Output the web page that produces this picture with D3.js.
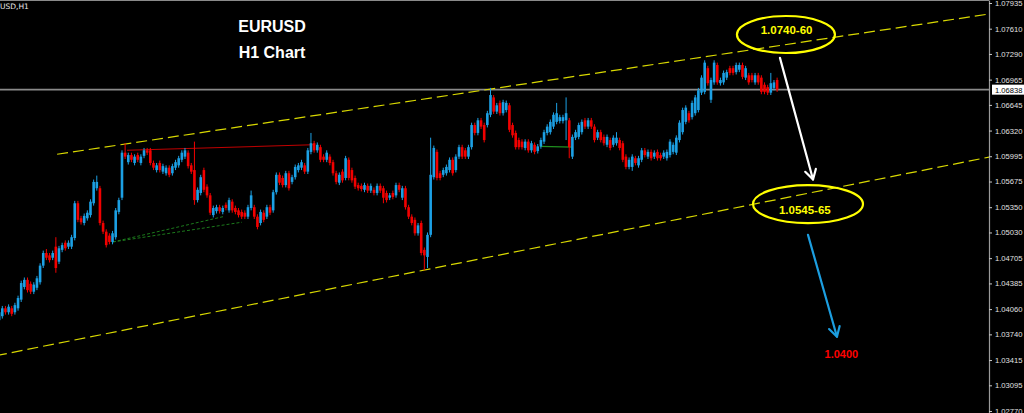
<!DOCTYPE html>
<html><head><meta charset="utf-8">
<script src="https://cdn.jsdelivr.net/npm/d3@7"></script>
<style>html,body{margin:0;padding:0;background:#000;overflow:hidden}svg{display:block}</style>
</head><body>
<svg id="c" width="1024" height="413"></svg>
<script>
// ---------------- DATA ----------------
const open = [
1.0415,1.0392,1.0397,1.0407,1.0402,1.0407,1.0402,1.0407,1.0418,1.0434,
1.0443,1.0438,1.0428,1.0433,1.0440,1.0461,1.0477,1.0474,1.0471,1.0485,
1.0466,1.0481,1.0490,1.0485,1.0485,1.0496,1.0540,1.0521,1.0515,1.0521,
1.0525,1.0540,1.0559,1.0559,1.0515,1.0504,1.0499,1.0491,1.0497,1.0529,
1.0547,1.0604,1.0592,1.0601,1.0591,1.0601,1.0591,1.0600,1.0607,1.0607,
1.0591,1.0582,1.0591,1.0580,1.0578,1.0585,1.0578,1.0585,1.0588,1.0595,
1.0599,1.0604,1.0588,1.0582,1.0544,1.0553,1.0582,1.0561,1.0550,1.0525,
1.0530,1.0535,1.0529,1.0538,1.0531,1.0542,1.0534,1.0531,1.0529,1.0528,
1.0523,1.0534,1.0535,1.0523,1.0515,1.0528,1.0523,1.0535,1.0531,1.0554,
1.0576,1.0572,1.0563,1.0578,1.0567,1.0573,1.0582,1.0585,1.0588,1.0580,
1.0605,1.0616,1.0607,1.0611,1.0599,1.0595,1.0599,1.0592,1.0578,1.0566,
1.0580,1.0572,1.0595,1.0582,1.0572,1.0563,1.0562,1.0557,1.0562,1.0556,
1.0557,1.0553,1.0562,1.0559,1.0553,1.0547,1.0553,1.0550,1.0563,1.0547,
1.0559,1.0535,1.0523,1.0519,1.0502,1.0515,1.0481,1.0472,1.0500,1.0573,
1.0605,1.0578,1.0576,1.0578,1.0582,1.0595,1.0582,1.0599,1.0611,1.0607,
1.0599,1.0611,1.0639,1.0629,1.0645,1.0639,1.0639,1.0652,1.0674,1.0656,
1.0667,1.0654,1.0658,1.0664,1.0639,1.0629,1.0620,1.0618,1.0610,1.0618,
1.0607,1.0614,1.0606,1.0612,1.0618,1.0629,1.0630,1.0637,1.0643,1.0644,
1.0644,1.0645,1.0645,1.0599,1.0623,1.0624,1.0630,1.0645,1.0637,1.0645,
1.0637,1.0623,1.0630,1.0624,1.0614,1.0620,1.0614,1.0616,1.0620,1.0616,
1.0599,1.0586,1.0586,1.0597,1.0588,1.0595,1.0607,1.0599,1.0605,1.0599,
1.0605,1.0601,1.0599,1.0597,1.0601,1.0605,1.0604,1.0620,1.0630,1.0643,
1.0654,1.0649,1.0654,1.0658,1.0680,1.0681,1.0711,1.0671,1.0693,1.0715,
1.0692,1.0693,1.0699,1.0711,1.0711,1.0706,1.0709,1.0715,1.0699,1.0702,
1.0702,1.0693,1.0702,1.0699,1.0690,1.0687,1.0680,1.0686,1.0696];
const high = [
1.0418,1.0405,1.0410,1.0410,1.0412,1.0410,1.0414,1.0423,1.0442,1.0446,
1.0446,1.0441,1.0440,1.0448,1.0464,1.0480,1.0482,1.0477,1.0480,1.0497,
1.0486,1.0490,1.0493,1.0493,1.0500,1.0543,1.0543,1.0524,1.0527,1.0531,
1.0545,1.0570,1.0575,1.0562,1.0518,1.0507,1.0502,1.0505,1.0534,1.0547,
1.0607,1.0616,1.0604,1.0604,1.0602,1.0604,1.0602,1.0610,1.0610,1.0610,
1.0594,1.0591,1.0594,1.0590,1.0588,1.0588,1.0590,1.0595,1.0600,1.0607,
1.0610,1.0607,1.0591,1.0618,1.0560,1.0576,1.0585,1.0564,1.0553,1.0537,
1.0538,1.0538,1.0537,1.0541,1.0547,1.0545,1.0537,1.0534,1.0532,1.0531,
1.0538,1.0556,1.0538,1.0526,1.0532,1.0531,1.0538,1.0538,1.0557,1.0579,
1.0579,1.0575,1.0581,1.0581,1.0576,1.0589,1.0591,1.0595,1.0591,1.0610,
1.0629,1.0619,1.0617,1.0614,1.0602,1.0607,1.0602,1.0595,1.0581,1.0579,
1.0583,1.0600,1.0598,1.0585,1.0575,1.0566,1.0565,1.0566,1.0565,1.0565,
1.0560,1.0565,1.0565,1.0562,1.0556,1.0553,1.0556,1.0566,1.0566,1.0562,
1.0562,1.0538,1.0526,1.0522,1.0515,1.0518,1.0484,1.0503,1.0623,1.0613,
1.0608,1.0581,1.0585,1.0589,1.0598,1.0598,1.0602,1.0614,1.0614,1.0610,
1.0614,1.0642,1.0642,1.0648,1.0648,1.0642,1.0657,1.0686,1.0677,1.0667,
1.0670,1.0671,1.0670,1.0667,1.0642,1.0632,1.0623,1.0621,1.0621,1.0621,
1.0619,1.0617,1.0615,1.0623,1.0633,1.0640,1.0646,1.0655,1.0667,1.0652,
1.0652,1.0674,1.0648,1.0627,1.0633,1.0642,1.0646,1.0648,1.0648,1.0648,
1.0640,1.0633,1.0633,1.0627,1.0627,1.0623,1.0626,1.0630,1.0623,1.0619,
1.0602,1.0598,1.0602,1.0600,1.0600,1.0610,1.0610,1.0608,1.0608,1.0607,
1.0608,1.0604,1.0607,1.0608,1.0621,1.0617,1.0626,1.0645,1.0661,1.0664,
1.0657,1.0670,1.0677,1.0686,1.0702,1.0721,1.0714,1.0699,1.0721,1.0718,
1.0699,1.0708,1.0709,1.0714,1.0714,1.0718,1.0718,1.0718,1.0714,1.0705,
1.0705,1.0705,1.0705,1.0702,1.0693,1.0690,1.0705,1.0696,1.0699];
const low = [
1.0386,1.0389,1.0394,1.0399,1.0399,1.0397,1.0399,1.0404,1.0415,1.0431,
1.0427,1.0425,1.0425,1.0430,1.0437,1.0458,1.0468,1.0465,1.0468,1.0452,
1.0463,1.0478,1.0480,1.0482,1.0482,1.0493,1.0516,1.0513,1.0512,1.0518,
1.0522,1.0537,1.0556,1.0512,1.0501,1.0484,1.0488,1.0488,1.0494,1.0526,
1.0544,1.0596,1.0589,1.0592,1.0588,1.0592,1.0588,1.0597,1.0601,1.0588,
1.0582,1.0579,1.0579,1.0577,1.0575,1.0573,1.0575,1.0582,1.0585,1.0592,
1.0596,1.0584,1.0577,1.0538,1.0541,1.0550,1.0554,1.0547,1.0525,1.0522,
1.0527,1.0527,1.0526,1.0531,1.0528,1.0528,1.0526,1.0522,1.0520,1.0520,
1.0520,1.0531,1.0520,1.0507,1.0512,1.0516,1.0520,1.0525,1.0528,1.0551,
1.0563,1.0560,1.0560,1.0556,1.0564,1.0570,1.0579,1.0582,1.0577,1.0577,
1.0602,1.0604,1.0604,1.0592,1.0592,1.0592,1.0588,1.0575,1.0564,1.0563,
1.0566,1.0569,1.0569,1.0566,1.0558,1.0556,1.0555,1.0554,1.0553,1.0553,
1.0550,1.0550,1.0553,1.0540,1.0541,1.0544,1.0545,1.0547,1.0554,1.0544,
1.0532,1.0520,1.0512,1.0499,1.0499,1.0474,1.0455,1.0458,1.0497,1.0570,
1.0569,1.0569,1.0573,1.0575,1.0579,1.0575,1.0579,1.0596,1.0596,1.0596,
1.0596,1.0608,1.0626,1.0626,1.0634,1.0617,1.0636,1.0649,1.0653,1.0653,
1.0651,1.0651,1.0655,1.0630,1.0623,1.0608,1.0608,1.0608,1.0607,1.0604,
1.0604,1.0602,1.0603,1.0609,1.0615,1.0626,1.0627,1.0634,1.0640,1.0641,
1.0641,1.0620,1.0597,1.0596,1.0620,1.0621,1.0627,1.0634,1.0634,1.0634,
1.0617,1.0620,1.0617,1.0613,1.0611,1.0607,1.0611,1.0613,1.0607,1.0592,
1.0583,1.0583,1.0581,1.0588,1.0585,1.0592,1.0598,1.0596,1.0594,1.0596,
1.0594,1.0594,1.0596,1.0594,1.0598,1.0602,1.0601,1.0617,1.0627,1.0640,
1.0642,1.0646,1.0651,1.0655,1.0677,1.0678,1.0689,1.0667,1.0690,1.0690,
1.0689,1.0690,1.0696,1.0702,1.0702,1.0703,1.0706,1.0697,1.0696,1.0690,
1.0693,1.0690,1.0690,1.0678,1.0678,1.0677,1.0677,1.0683,1.0681];
const close = [
1.0390,1.0402,1.0407,1.0402,1.0409,1.0400,1.0411,1.0420,1.0439,1.0443,
1.0430,1.0428,1.0437,1.0445,1.0461,1.0477,1.0471,1.0468,1.0477,1.0458,
1.0483,1.0487,1.0483,1.0490,1.0497,1.0540,1.0519,1.0516,1.0524,1.0528,
1.0542,1.0567,1.0567,1.0515,1.0504,1.0487,1.0491,1.0502,1.0531,1.0544,
1.0604,1.0599,1.0601,1.0595,1.0599,1.0595,1.0599,1.0607,1.0604,1.0591,
1.0585,1.0588,1.0582,1.0587,1.0585,1.0576,1.0587,1.0592,1.0597,1.0604,
1.0607,1.0587,1.0580,1.0544,1.0557,1.0573,1.0557,1.0550,1.0528,1.0534,
1.0535,1.0530,1.0534,1.0534,1.0544,1.0531,1.0529,1.0525,1.0523,1.0523,
1.0535,1.0550,1.0523,1.0510,1.0529,1.0519,1.0535,1.0528,1.0554,1.0576,
1.0566,1.0563,1.0578,1.0559,1.0573,1.0586,1.0588,1.0592,1.0580,1.0607,
1.0616,1.0607,1.0614,1.0595,1.0595,1.0604,1.0591,1.0578,1.0567,1.0576,
1.0569,1.0597,1.0572,1.0569,1.0561,1.0559,1.0558,1.0563,1.0556,1.0562,
1.0553,1.0562,1.0556,1.0547,1.0544,1.0550,1.0548,1.0563,1.0557,1.0559,
1.0535,1.0523,1.0515,1.0502,1.0512,1.0477,1.0474,1.0500,1.0576,1.0610,
1.0572,1.0572,1.0582,1.0586,1.0595,1.0578,1.0599,1.0611,1.0599,1.0599,
1.0611,1.0639,1.0629,1.0645,1.0637,1.0620,1.0654,1.0677,1.0656,1.0664,
1.0654,1.0668,1.0667,1.0633,1.0626,1.0611,1.0611,1.0611,1.0618,1.0607,
1.0616,1.0605,1.0612,1.0620,1.0630,1.0637,1.0643,1.0652,1.0654,1.0649,
1.0649,1.0654,1.0611,1.0624,1.0630,1.0639,1.0643,1.0637,1.0645,1.0637,
1.0620,1.0630,1.0620,1.0616,1.0624,1.0610,1.0623,1.0623,1.0610,1.0595,
1.0586,1.0595,1.0599,1.0591,1.0597,1.0607,1.0601,1.0605,1.0597,1.0604,
1.0597,1.0597,1.0604,1.0605,1.0618,1.0614,1.0623,1.0642,1.0658,1.0661,
1.0645,1.0667,1.0674,1.0683,1.0699,1.0718,1.0692,1.0696,1.0718,1.0693,
1.0696,1.0705,1.0706,1.0705,1.0705,1.0715,1.0715,1.0700,1.0711,1.0693,
1.0696,1.0702,1.0693,1.0681,1.0681,1.0680,1.0692,1.0693,1.06838];

const tickValues = [1.07935,1.07610,1.07290,1.06965,1.06645,1.06320,1.05995,1.05675,1.05350,1.05030,1.04705,1.04385,1.04060,1.03740,1.03415,1.03095,1.02770];
const currentPrice = 1.06838;
const symbolLabel = "USD,H1";
const titleLines = ["EURUSD", "H1 Chart"];

// trend lines: [bar index, price]
const upperChannel = [[19.4, 1.0602], [316, 1.0780]];
const lowerChannel = [[0, 1.0347], [316, 1.0599]];
const redLine = [[41.6, 1.0607], [100.6, 1.0614]];
const greenDashA = [[37.1, 1.0491], [72.1, 1.0523]];
const greenDashB = [[37.1, 1.0491], [78.1, 1.0516]];
const greenSolid = [[172.7, 1.0612], [183.2, 1.0611]];
const whiteArrow = [[248.9, 1.0724], [259.4, 1.0570]];
const blueArrow = [[257.8, 1.0500], [267.0, 1.0371]];
const zones = [
  {label: "1.0740-60", i: 250.8, price: 1.07536, ti: 251.0, tp: 1.07543, rx: 49, ry: 18.5},
  {label: "1.0545-65", i: 257.8, price: 1.05390, ti: 256.8, tp: 1.05264, rx: 55, ry: 19}
];
const target = {label: "1.0400", i: 268.4, price: 1.03441};

// ---------------- DRAW ----------------
const W = 1024, H = 413, plotRight = 989;
const svg = d3.select("#c");
svg.append("rect").attr("width", W).attr("height", H).attr("fill", "#000");

const x = d3.scaleLinear().domain([0, 314]).range([-4, 985]);
const y = d3.scaleLinear().domain([1.07973, 1.027446]).range([0, 413]);

svg.append("defs").append("clipPath").attr("id", "pc")
  .append("rect").attr("x", 0).attr("y", 0).attr("width", plotRight).attr("height", H);
const plot = svg.append("g").attr("clip-path", "url(#pc)");

const lineGen = d3.line().x(d => x(d[0])).y(d => y(d[1]));

// current price line
plot.append("line").attr("x1", 0).attr("x2", plotRight)
  .attr("y1", y(currentPrice)).attr("y2", y(currentPrice))
  .attr("stroke", "#8a8a8a").attr("stroke-width", 1.6);

// channel lines
[upperChannel, lowerChannel].forEach(l => {
  plot.append("path").attr("d", lineGen(l)).attr("fill", "none")
    .attr("stroke", "#d8d800").attr("stroke-width", 1.2).attr("stroke-dasharray", "11,5");
});
plot.append("path").attr("d", lineGen(redLine)).attr("fill", "none")
  .attr("stroke", "#c00000").attr("stroke-width", 1.1);
[greenDashA, greenDashB].forEach(l => {
  plot.append("path").attr("d", lineGen(l)).attr("fill", "none")
    .attr("stroke", "#1c7a1c").attr("stroke-width", 1).attr("stroke-dasharray", "3,2");
});
plot.append("path").attr("d", lineGen(greenSolid)).attr("fill", "none")
  .attr("stroke", "#1f8f1f").attr("stroke-width", 1.1);

// candles
const bull = "#1ca0e4", bear = "#f20000";
const candles = open.map((o, i) => ({i, o, h: high[i], l: low[i], c: close[i]}));
const cg = plot.append("g");
cg.selectAll("line.w").data(candles).join("line").attr("class", "w")
  .attr("x1", d => x(d.i)).attr("x2", d => x(d.i))
  .attr("y1", d => y(d.h)).attr("y2", d => y(d.l))
  .attr("stroke", d => d.c >= d.o ? bull : bear).attr("stroke-width", 1);
cg.selectAll("rect.b").data(candles).join("rect").attr("class", "b")
  .attr("x", d => x(d.i) - 1.3).attr("width", 2.6)
  .attr("y", d => y(Math.max(d.o, d.c)))
  .attr("height", d => Math.max(0.9, Math.abs(y(d.o) - y(d.c))))
  .attr("fill", d => d.c >= d.o ? bull : bear);

// arrows
function arrow(pts, color) {
  const [a, b] = pts;
  const x1 = x(a[0]), y1 = y(a[1]), x2 = x(b[0]), y2 = y(b[1]);
  const ang = Math.atan2(y2 - y1, x2 - x1);
  const L = 11, sp = Math.PI / 6;
  plot.append("line").attr("x1", x1).attr("y1", y1).attr("x2", x2).attr("y2", y2)
    .attr("stroke", color).attr("stroke-width", 2.2).attr("stroke-linecap", "round");
  const p1 = [x2 - L * Math.cos(ang - sp), y2 - L * Math.sin(ang - sp)];
  const p2 = [x2 - L * Math.cos(ang + sp), y2 - L * Math.sin(ang + sp)];
  plot.append("path").attr("d", `M${p1[0]},${p1[1]}L${x2},${y2}L${p2[0]},${p2[1]}`)
    .attr("fill", "none").attr("stroke", color).attr("stroke-width", 2.2)
    .attr("stroke-linejoin", "round").attr("stroke-linecap", "round");
}
arrow(whiteArrow, "#ffffff");
arrow(blueArrow, "#1c9ee0");

// zone ellipses
zones.forEach(z => {
  plot.append("ellipse").attr("cx", x(z.i)).attr("cy", y(z.price))
    .attr("rx", z.rx).attr("ry", z.ry)
    .attr("fill", "none").attr("stroke", "#ffff00").attr("stroke-width", 2.2);
  plot.append("text").attr("x", x(z.ti)).attr("y", y(z.tp))
    .attr("text-anchor", "middle").attr("fill", "#ffff00")
    .attr("font-family", "Liberation Sans, Arial, sans-serif").attr("font-weight", "bold")
    .attr("font-size", 11.5).text(z.label);
});
plot.append("text").attr("x", x(target.i)).attr("y", y(target.price))
  .attr("text-anchor", "middle").attr("fill", "#ff0000")
  .attr("font-family", "Liberation Sans, Arial, sans-serif").attr("font-weight", "bold")
  .attr("font-size", 11).text(target.label);

// titles
titleLines.forEach((t, k) => {
  svg.append("text").attr("x", 272).attr("y", 32 + k * 26)
    .attr("text-anchor", "middle").attr("fill", "#ffffff")
    .attr("font-family", "Liberation Sans, Arial, sans-serif").attr("font-weight", "bold")
    .attr("font-size", 16).text(t);
});
svg.append("text").attr("x", 0).attr("y", 9).attr("fill", "#e8e8e8")
  .attr("font-family", "DejaVu Sans, sans-serif").attr("font-size", 7.5).text(symbolLabel);

// top border
svg.append("line").attr("x1", 0).attr("x2", plotRight).attr("y1", 0.5).attr("y2", 0.5)
  .attr("stroke", "#8a8a8a").attr("stroke-width", 1);

// right price axis
const axis = d3.axisRight(y).tickValues(tickValues).tickSize(3).tickSizeOuter(0)
  .tickPadding(3).tickFormat(d3.format(".5f"));
const ag = svg.append("g").attr("transform", `translate(${plotRight},0)`).call(axis);
ag.select(".domain").attr("stroke", "#9a9a9a").attr("stroke-width", 1.2);
ag.selectAll(".tick line").attr("stroke", "#c8c8c8");
ag.selectAll(".tick text").attr("fill", "#e0e0e0")
  .attr("font-family", "Liberation Sans, Arial, sans-serif").attr("font-size", 7.6);

// current price tag
const cy = y(currentPrice);
svg.append("rect").attr("x", plotRight + 3).attr("y", cy - 5).attr("width", W - plotRight - 3).attr("height", 10)
  .attr("fill", "#ffffff");
svg.append("text").attr("x", plotRight + 6).attr("y", cy + 3)
  .attr("fill", "#000").attr("font-family", "Liberation Sans, Arial, sans-serif")
  .attr("font-size", 7.6).text(d3.format(".5f")(currentPrice));
</script>
</body></html>
